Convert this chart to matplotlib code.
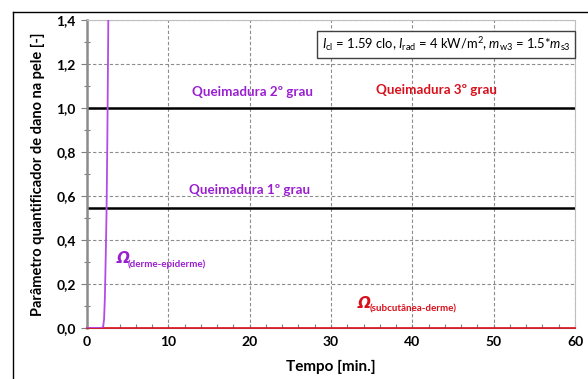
import matplotlib
matplotlib.use("Agg")
import matplotlib.pyplot as plt
from matplotlib.ticker import MultipleLocator, FuncFormatter
from matplotlib.lines import Line2D

plt.rcParams['font.family'] = ['Lato', 'DejaVu Sans']
plt.rcParams['mathtext.fontset'] = 'custom'
plt.rcParams['mathtext.rm'] = 'Lato'
plt.rcParams['mathtext.it'] = 'Lato:italic'
plt.rcParams['mathtext.bf'] = 'Lato:bold'

# Damage parameter for the dermis-epidermis interface (time in minutes)
t_derme_epiderme = [0.0, 1.8, 1.9, 2.0, 2.1, 2.2, 2.3, 2.4, 2.5, 2.6, 2.7, 2.8]
omega_derme_epiderme = [0.0, 0.0, 0.002, 0.01, 0.04, 0.14, 0.32, 0.52, 0.85, 1.3, 1.8, 2.4]

# Damage parameter for the subcutaneous-dermis interface
t_subcutanea_derme = [0.0, 10.0, 20.0, 30.0, 40.0, 50.0, 60.0]
omega_subcutanea_derme = [0.0, 0.0, 0.0, 0.0, 0.0, 0.0, 0.0]

# Burn degree thresholds
limiar_1grau = 0.545
limiar_2grau = 1.0

x_ticks = [0, 10, 20, 30, 40, 50, 60]
y_ticks = [0.0, 0.2, 0.4, 0.6, 0.8, 1.0, 1.2, 1.4]

PURPLE = '#9A1FD0'
PURPLE_LINE = '#B44BE6'
RED = '#D8101C'

fig = plt.figure(figsize=(5.88, 3.79), dpi=100)
ax = fig.add_axes([87 / 588, 1 - 328 / 379, (575 - 87) / 588, (328 - 20) / 379])

ax.set_xlim(0, 60)
ax.set_ylim(0, 1.4)

# Grid
ax.set_xticks(x_ticks)
ax.set_yticks(y_ticks)
ax.grid(True, which='major', color='#8C8C8C', linestyle=(0, (3, 2)), linewidth=0.8, zorder=0)

# Thresholds
ax.axhline(limiar_2grau, color='black', linewidth=1.8, zorder=2)
ax.axhline(limiar_1grau, color='black', linewidth=1.8, zorder=2)

# Curves
ax.plot(t_subcutanea_derme, omega_subcutanea_derme, color=RED, linewidth=1.2, zorder=4, clip_on=False)
ax.plot(t_derme_epiderme, omega_derme_epiderme, color=PURPLE_LINE, linewidth=1.3, zorder=5)

# Spines
for side in ('top', 'right'):
    ax.spines[side].set_color('#BFBFBF')
    ax.spines[side].set_linewidth(0.8)
ax.spines['left'].set_color('#8C8C8C')
ax.spines['left'].set_linewidth(1.8)
ax.spines['bottom'].set_color('#8C8C8C')
ax.spines['bottom'].set_linewidth(0.8)

# Ticks
ax.xaxis.set_minor_locator(MultipleLocator(2))
ax.yaxis.set_minor_locator(MultipleLocator(0.1))
ax.tick_params(axis='x', which='both', direction='in', length=3, color='#7F7F7F', width=0.8, pad=6)
ax.tick_params(axis='y', which='major', direction='out', length=4, color='#7F7F7F', width=0.8, pad=4)
ax.tick_params(axis='y', which='minor', direction='inout', length=4, color='#7F7F7F', width=0.8)
ax.yaxis.set_major_formatter(FuncFormatter(lambda v, p: f"{v:.1f}".replace('.', ',')))
for lab in ax.get_xticklabels() + ax.get_yticklabels():
    lab.set_fontweight('bold')
    lab.set_fontsize(10)

ax.set_xlabel('Tempo [min.]', fontsize=11, fontweight='bold', labelpad=8)
ax.set_ylabel('Parâmetro quantificador de dano na pele [-]', fontsize=10.5, fontweight='bold', labelpad=8)

# Zone labels
ax.text(20.3, 1.075, 'Queimadura 2º grau', color=PURPLE, fontsize=9.6, fontweight='bold', ha='center', va='center', zorder=6)
ax.text(43.0, 1.08, 'Queimadura 3º grau', color=RED, fontsize=9.6, fontweight='bold', ha='center', va='center', zorder=6)
ax.text(20.0, 0.626, 'Queimadura 1º grau', color=PURPLE, fontsize=9.6, fontweight='bold', ha='center', va='center', zorder=6)

# Curve labels
ax.text(3.65, 0.316, 'Ω', color=PURPLE, fontsize=11, fontweight='bold', fontstyle='oblique',
        family='DejaVu Sans', ha='left', va='center', zorder=6)
ax.text(5.0, 0.29, '(derme-epiderme)', color=PURPLE, fontsize=7.1, fontweight='bold', ha='left', va='center', zorder=6)
ax.text(33.3, 0.111, 'Ω', color=RED, fontsize=11, fontweight='bold', fontstyle='oblique',
        family='DejaVu Sans', ha='left', va='center', zorder=6)
ax.text(34.7, 0.088, '(subcutânea-derme)', color=RED, fontsize=7.1, fontweight='bold', ha='left', va='center', zorder=6)

# Conditions box
ax.text(44.15, 1.289,
        r'$I_{\mathrm{cl}}$ = 1.59 clo, $I_{\mathrm{rad}}$ = 4 kW/m$^{2}$, $m_{\mathrm{w3}}$ = 1.5*$m_{\mathrm{s3}}$',
        fontsize=9.4, ha='center', va='center', zorder=7,
        bbox=dict(boxstyle='square,pad=0.35', facecolor='white', edgecolor='#404040', linewidth=1.0))

# Outer frame (top and left edges)
fig.add_artist(Line2D([13 / 588, 1.0], [1 - 12 / 379, 1 - 12 / 379], color='black', linewidth=1.0, transform=fig.transFigure))
fig.add_artist(Line2D([13 / 588, 13 / 588], [0.0, 1 - 12 / 379], color='black', linewidth=1.0, transform=fig.transFigure))

fig.savefig('out.png', dpi=100)
